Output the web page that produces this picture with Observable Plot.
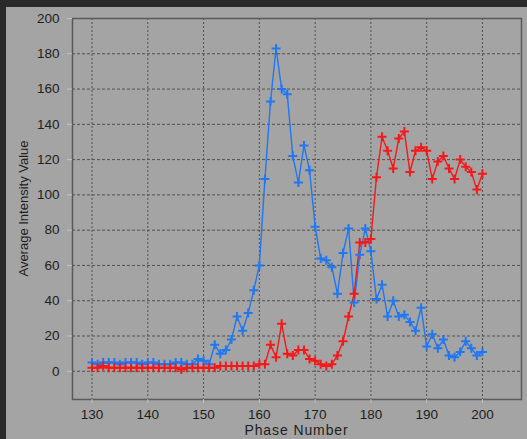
<!DOCTYPE html>
<html>
<head>
<meta charset="utf-8">
<script src="https://cdn.jsdelivr.net/npm/d3@7"></script>
<script src="https://cdn.jsdelivr.net/npm/@observablehq/plot@0.6"></script>
<style>
  html, body { margin: 0; padding: 0; background: #a4a4a4; overflow: hidden; }
  #wrap { position: relative; width: 527px; height: 439px; background: #a4a4a4; overflow: hidden; }
  #wrap svg { position: absolute; left: 0; top: 0; display: block; max-width: none; }
  #topbar { position: absolute; left: 0; top: 0; width: 527px; height: 7px; background: #2a2a2a; z-index: 2; }
  #leftbar { position: absolute; left: 0; top: 0; width: 6px; height: 439px; background: #2a2a2a; z-index: 2; }
</style>
</head>
<body>
<div id="wrap"><div id="topbar"></div><div id="leftbar"></div></div>
<script>
const phases = [130,131,132,133,134,135,136,137,138,139,
  140,141,142,143,144,145,146,147,148,149,
  150,151,152,153,154,155,156,157,158,159,
  160,161,162,163,164,165,166,167,168,169,
  170,171,172,173,174,175,176,177,178,179,
  180,181,182,183,184,185,186,187,188,189,
  190,191,192,193,194,195,196,197,198,199,200];
const blueValues = [5,4,5,5,5,4,5,5,5,4,
  5,5,4,4,4,5,5,4,4,7,
  6,4,15,10,12,18,31,23,33,46,
  60,109,153,183,160,157,122,107,128,114,
  82,64,63,59,44,67,81,39,66,81,
  68,41,49,31,40,31,32,28,23,36,
  14,21,13,18,9,8,11,17,13,9,11];
const redValues = [2,2,3,2,2,2,2,2,2,2,
  2,2,2,2,2,2,1,2,2,2,
  2,2,2,3,3,3,3,3,3,3,
  4,4,15,8,27,10,9,12,12,7,
  6,4,3,4,9,17,31,44,73,73,
  75,110,133,125,115,132,136,113,125,127,
  125,109,119,122,115,109,120,116,113,103,112];
const xTicks = [130,140,150,160,170,180,190,200];
const yTicks = [0,20,40,60,80,100,120,140,160,180,200];
const xLabel = "Phase Number";
const yLabel = "Average Intensity Value";

const blue = phases.map((p, i) => ({phase: p, value: blueValues[i]}));
const red = phases.map((p, i) => ({phase: p, value: redValues[i]}));

const chart = Plot.plot({
  width: 527,
  height: 439,
  marginLeft: 72,
  marginRight: 6,
  marginTop: 18,
  marginBottom: 40,
  style: {background: "#a4a4a4", fontFamily: "'Liberation Sans', Arial, sans-serif", fontSize: "13px", color: "#1e1e1e"},
  x: {domain: [126.5, 207], ticks: xTicks},
  y: {domain: [-16, 200], ticks: yTicks},
  marks: [
    Plot.ruleX(xTicks, {stroke: "#505050", strokeWidth: 1, strokeDasharray: "2,2"}),
    Plot.ruleY(yTicks, {stroke: "#505050", strokeWidth: 1, strokeDasharray: "3,2"}),
    Plot.frame({stroke: "#5a5a5a", strokeWidth: 1.5}),
    Plot.axisX(xTicks, {tickSize: 4, stroke: "#c4c4c4", tickPadding: 6, fill: "#1e1e1e", fontSize: 13.5,
      label: null}),
    Plot.axisY(yTicks, {tickSize: 5, stroke: "#c4c4c4", tickPadding: 8, fill: "#1e1e1e", fontSize: 13.5,
      label: null}),
    Plot.line(blue, {x: "phase", y: "value", stroke: "#1f77f2", strokeWidth: 1.4}),
    Plot.line(red, {x: "phase", y: "value", stroke: "#f51818", strokeWidth: 1.4}),
    Plot.dot(blue, {x: "phase", y: "value", symbol: "plus", r: 3, stroke: "#1f77f2", strokeWidth: 2}),
    Plot.dot(red, {x: "phase", y: "value", symbol: "plus", r: 3, stroke: "#f51818", strokeWidth: 2})
  ]
});

const svg = d3.select(chart);
svg.append("text")
  .attr("x", 72 + (527 - 72 - 6) / 2)
  .attr("y", 435)
  .attr("text-anchor", "middle")
  .attr("font-size", 14)
  .attr("letter-spacing", "0.9px")
  .attr("fill", "#1e1e1e")
  .text(xLabel);
svg.append("text")
  .attr("transform", `translate(28,${18 + (439 - 18 - 40) / 2}) rotate(-90)`)
  .attr("text-anchor", "middle")
  .attr("font-size", 13)
  .attr("fill", "#1e1e1e")
  .text(yLabel);

document.getElementById("wrap").appendChild(chart);
</script>
</body>
</html>
